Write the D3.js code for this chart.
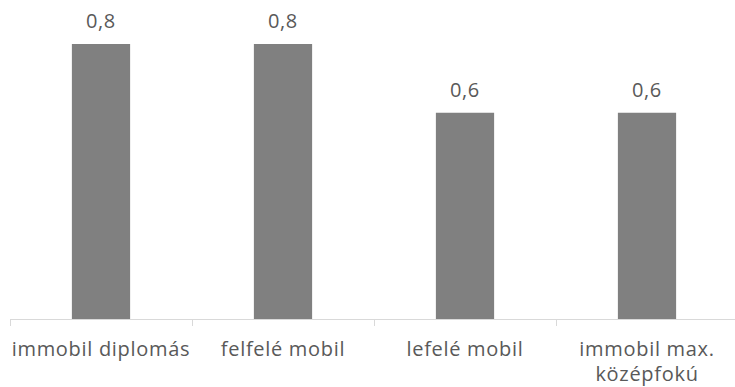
<!DOCTYPE html>
<html>
<head>
<meta charset="utf-8">
<script src="https://cdn.jsdelivr.net/npm/d3@7"></script>
<style>
  body { margin: 0; background: #fff; }
  svg text { font-family: "Open Sans", sans-serif; fill: #595959; }
</style>
</head>
<body>
<svg id="chart"></svg>
<script>
const categories = ['immobil diplomás', 'felfelé mobil', 'lefelé mobil', 'immobil max. középfokú'];
const values = [0.8, 0.8, 0.6, 0.6];
const valueLabels = ['0,8', '0,8', '0,6', '0,6'];

const width = 735, height = 387;
const baseY = 319, topY = 44;

const svg = d3.select('#chart')
    .attr('width', width)
    .attr('height', height);

const x = d3.scaleBand()
    .domain(categories)
    .range([10, 738])
    .paddingInner(0.68)
    .paddingOuter(0.34);

const y = d3.scaleLinear()
    .domain([0, d3.max(values)])
    .range([baseY, topY]);

// axis line + tick marks between categories
const step = x.step();
const axisG = svg.append('g');
axisG.append('line')
    .attr('x1', 10).attr('x2', 738)
    .attr('y1', baseY + 0.5).attr('y2', baseY + 0.5)
    .attr('stroke', '#d9d9d9');
d3.range(categories.length + 1).forEach(i => {
    const tx = Math.round(10 + i * step) + 0.5;
    axisG.append('line')
        .attr('x1', tx).attr('x2', tx)
        .attr('y1', baseY).attr('y2', baseY + 7)
        .attr('stroke', '#d9d9d9');
});

svg.selectAll('rect.bar')
    .data(values)
    .join('rect')
    .attr('class', 'bar')
    .attr('x', (d, i) => x(categories[i]))
    .attr('width', x.bandwidth())
    .attr('y', d => y(d))
    .attr('height', d => baseY - y(d))
    .attr('fill', '#808080');

svg.selectAll('text.val')
    .data(values)
    .join('text')
    .attr('class', 'val')
    .attr('x', (d, i) => x(categories[i]) + x.bandwidth() / 2)
    .attr('y', d => y(d) - 16)
    .attr('text-anchor', 'middle')
    .style('font-size', '20px')
    .style('letter-spacing', '0.6px')
    .text((d, i) => valueLabels[i]);

// category labels, wrapped like the original
const wrapped = {
    'immobil max. középfokú': ['immobil max.', 'középfokú']
};
categories.forEach(c => {
    const lines = wrapped[c] || [c];
    const t = svg.append('text')
        .attr('text-anchor', 'middle')
        .style('font-size', '20px')
        .style('letter-spacing', '0.7px');
    lines.forEach((l, j) => {
        t.append('tspan')
            .attr('x', x(c) + x.bandwidth() / 2)
            .attr('y', 356 + j * 25)
            .text(l);
    });
});
</script>
</body>
</html>
